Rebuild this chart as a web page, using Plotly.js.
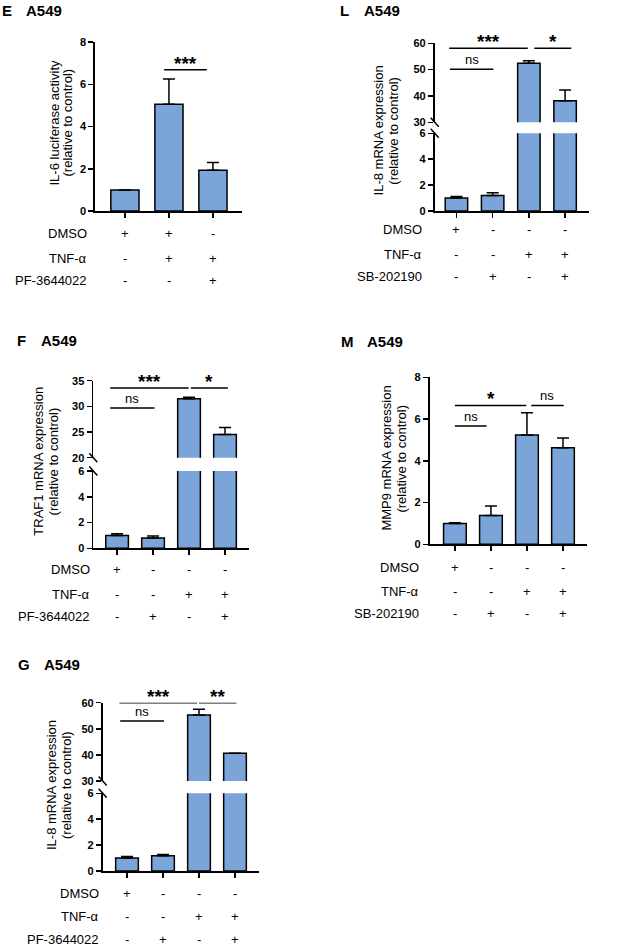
<!DOCTYPE html>
<html><head><meta charset="utf-8">
<script src="https://cdn.plot.ly/plotly-3.0.1.min.js"></script>
<style>html,body{margin:0;padding:0;background:#fff}</style>
</head><body>
<div id="chart" style="width:626px;height:950px"></div>
<script>
// ---------------- data ----------------
const eVals = [1.0, 5.05, 1.93];
const eErr  = [0, 1.2, 0.37];
const eDMSO = ['+', '+', '-'];
const eTNF  = ['-', '+', '+'];
const ePF   = ['-', '-', '+'];
const eSig  = [[0.89, 1.86, 6.69, '***']];

const lVals = [1.0, 1.2, 52.4, 38.2];
const lErr  = [0.12, 0.2, 1.0, 4.1];
const lDMSO = ['+', '-', '-', '-'];
const lTNF  = ['-', '-', '+', '+'];
const lSB   = ['-', '+', '-', '+'];
const lSig  = [[-0.2, 1.97, 58.1, '***'], [2.15, 3.17, 58.1, '*'], [-0.18, 1.02, 50.1, 'ns']];

const fVals = [1.0, 0.8, 31.5, 24.5];
const fErr  = [0.12, 0.15, 0.3, 1.4];
const fDMSO = ['+', '-', '-', '-'];
const fTNF  = ['-', '-', '+', '+'];
const fPF   = ['-', '+', '-', '+'];
const fSig  = [[-0.19, 1.99, 33.6, '***'], [2.05, 3.08, 33.6, '*'], [-0.19, 1.04, 29.7, 'ns']];

const mVals = [1.0, 1.38, 5.23, 4.63];
const mErr  = [0.03, 0.45, 1.07, 0.46];
const mDMSO = ['+', '-', '-', '-'];
const mTNF  = ['-', '-', '+', '+'];
const mSB   = ['-', '+', '-', '+'];
const mSig  = [[0.0, 1.98, 6.65, '*'], [2.12, 3.02, 6.65, 'ns'], [0.0, 0.88, 5.67, 'ns']];

const gVals = [1.0, 1.17, 55.3, 40.6];
const gErr  = [0.12, 0.1, 2.2, 0];
const gDMSO = ['+', '-', '-', '-'];
const gTNF  = ['-', '-', '+', '+'];
const gPF   = ['-', '+', '-', '+'];
const gSig  = [[-0.21, 1.95, 60, '***'], [2.0, 3.04, 60, '**'], [-0.19, 1.03, 53.0, 'ns']];

// ---------------- layout helpers ----------------
const W = 626, H = 950;
const FONT = 'Liberation Sans, Arial, sans-serif';
const px = v => v / W;
const py = v => 1 - v / H;
const key = id => id[0] + 'axis' + id.slice(1);
const BAR = '#7ba5d9';

const panels = [
  { vals: eVals, err: eErr, sig: eSig,
    rows: [['DMSO', eDMSO], ['TNF-α', eTNF], ['PF-3644022', ePF]],
    xa: 'x', yLow: 'y', yUp: null,
    xDom: [95, 242], xRange: [-0.68, 2.66], barW: 0.64,
    low: { dom: [42, 211], range: [0, 8], ticks: [0, 2, 4, 6, 8] },
    rowRight: 89, rowY: [233.5, 258.5, 280],
    title: ['IL-6 luciferase activity', '(relative to control)'], titleX: [54.5, 67.5], titleY: 123,
    letter: 'E', letterX: 0, nameX: 24, headY: 10 },
  { vals: lVals, err: lErr, sig: lSig,
    rows: [['DMSO', lDMSO], ['TNF-α', lTNF], ['SB-202190', lSB]],
    xa: 'x2', yLow: 'y2', yUp: 'y3',
    xDom: [434.7, 589], xRange: [-0.6, 3.66], barW: 0.62,
    low: { dom: [133.3, 211], range: [0, 6], ticks: [0, 2, 4, 6] },
    up: { dom: [43.3, 122.3], range: [30, 60], ticks: [30, 40, 50, 60] },
    rowRight: 424, rowY: [230, 254.3, 276.7],
    title: ['IL-8 mRNA expression', '(relative to control)'], titleX: [378.7, 394], titleY: 130.7,
    letter: 'L', letterX: 338, nameX: 362.3, headY: 10 },
  { vals: fVals, err: fErr, sig: fSig,
    rows: [['DMSO', fDMSO], ['TNF-α', fTNF], ['PF-3644022', fPF]],
    xa: 'x3', yLow: 'y4', yUp: 'y5',
    xDom: [93.3, 249.3], xRange: [-0.66, 3.675], barW: 0.63,
    low: { dom: [471, 548.3], range: [0, 6], ticks: [0, 2, 4, 6] },
    up: { dom: [380.7, 457.7], range: [20, 35], ticks: [20, 25, 30, 35] },
    rowRight: 91.7, rowY: [569.3, 594.3, 616],
    title: ['TRAF1 mRNA expression', '(relative to control)'], titleX: [39, 53.7], titleY: 461.7,
    letter: 'F', letterX: 15, nameX: 39.3, headY: 340 },
  { vals: mVals, err: mErr, sig: mSig,
    rows: [['DMSO', mDMSO], ['TNF-α', mTNF], ['SB-202190', mSB]],
    xa: 'x4', yLow: 'y6', yUp: null,
    xDom: [429.7, 587.3], xRange: [-0.7, 3.675], barW: 0.63,
    low: { dom: [377.3, 544.3], range: [0, 8], ticks: [0, 2, 4, 6, 8] },
    rowRight: 421.3, rowY: [567.3, 591.7, 613.3],
    title: ['MMP9 mRNA expression', '(relative to control)'], titleX: [386.3, 401.3], titleY: 458.3,
    letter: 'M', letterX: 339, nameX: 365.3, headY: 341 },
  { vals: gVals, err: gErr, sig: gSig,
    rows: [['DMSO', gDMSO], ['TNF-α', gTNF], ['PF-3644022', gPF]],
    xa: 'x5', yLow: 'y7', yUp: 'y8',
    xDom: [102.7, 259.3], xRange: [-0.675, 3.675], barW: 0.63,
    low: { dom: [793.3, 871], range: [0, 6], ticks: [0, 2, 4, 6] },
    up: { dom: [702.7, 781], range: [30, 60], ticks: [30, 40, 50, 60] },
    rowRight: 101, rowY: [893.3, 916.7, 939],
    title: ['IL-8 mRNA expression', '(relative to control)'], titleX: [51, 66], titleY: 785,
    letter: 'G', letterX: 16, nameX: 41.7, headY: 664.3 }
];

const traces = [];
const layout = {
  width: W, height: H, margin: { l: 0, r: 0, t: 0, b: 0 },
  paper_bgcolor: '#fff', plot_bgcolor: 'rgba(0,0,0,0)',
  showlegend: false, barmode: 'overlay',
  font: { family: FONT, color: '#000', size: 13 },
  annotations: [], shapes: []
};

function yAxis(seg, anchor) {
  return {
    domain: [py(seg.dom[1]), py(seg.dom[0])], range: seg.range, anchor: anchor,
    tickvals: seg.ticks, ticks: 'outside', ticklen: 5, tickwidth: 1.5, tickcolor: '#000',
    showline: true, linecolor: '#000', linewidth: 1.8, showgrid: false, zeroline: false,
    tickfont: { family: FONT, size: 11, weight: 'bold', color: '#000' }, fixedrange: true
  };
}

panels.forEach(p => {
  const idx = p.vals.map((_, i) => i);
  const zeros = p.vals.map(() => 0);
  layout[key(p.xa)] = {
    domain: [px(p.xDom[0]), px(p.xDom[1])], range: p.xRange, anchor: p.yLow,
    tickvals: idx, showticklabels: false, ticks: 'outside', ticklen: 5, tickwidth: 1.5, tickcolor: '#000',
    showline: true, linecolor: '#000', linewidth: 1.8, showgrid: false, zeroline: false, fixedrange: true
  };
  layout[key(p.yLow)] = yAxis(p.low, p.xa);
  if (p.yUp) layout[key(p.yUp)] = yAxis(p.up, p.xa);

  const segs = p.yUp ? [p.yLow, p.yUp] : [p.yLow];
  segs.forEach(ya => {
    traces.push({
      type: 'bar', x: idx, y: p.vals, width: p.barW, xaxis: p.xa, yaxis: ya,
      marker: { color: BAR, line: { color: '#000', width: 1.5 } },
      error_y: { type: 'data', symmetric: false, array: p.err, arrayminus: zeros,
                 color: '#000', thickness: 1.5, width: 6 },
      hoverinfo: 'skip'
    });
  });

  const sigAxis = p.yUp || p.yLow;
  p.sig.forEach(s => {
    traces.push({
      type: 'scatter', mode: 'lines', x: [s[0], s[1]], y: [s[2], s[2]],
      xaxis: p.xa, yaxis: sigAxis, cliponaxis: false,
      line: { color: '#000', width: 1.5 }, hoverinfo: 'skip'
    });
    const isNs = s[3] === 'ns';
    layout.annotations.push({
      x: (s[0] + s[1]) / 2, y: s[2], xref: p.xa, yref: sigAxis,
      text: s[3], showarrow: false, xanchor: 'center', yanchor: 'bottom',
      yshift: isNs ? 0 : -6,
      font: { family: FONT, size: isNs ? 13 : 19, weight: isNs ? 'normal' : 'bold', color: '#000' }
    });
  });

  // row labels and +/- signs
  p.rows.forEach((r, ri) => {
    layout.annotations.push({
      xref: 'paper', yref: 'paper', x: px(p.rowRight), y: py(p.rowY[ri]),
      xanchor: 'right', yanchor: 'middle', text: r[0], showarrow: false,
      font: { family: FONT, size: 13, color: '#000' }
    });
    r[1].forEach((sgn, i) => {
      layout.annotations.push({
        xref: p.xa, yref: 'paper', x: i, y: py(p.rowY[ri]),
        xanchor: 'center', yanchor: 'middle', text: sgn, showarrow: false,
        font: { family: FONT, size: 13, color: '#000' }
      });
    });
  });

  // y-axis title (two lines)
  p.title.forEach((t, ti) => {
    layout.annotations.push({
      xref: 'paper', yref: 'paper', x: px(p.titleX[ti]), y: py(p.titleY),
      xanchor: 'center', yanchor: 'middle', textangle: -90, text: t, showarrow: false,
      font: { family: FONT, size: 13, color: '#000' }
    });
  });

  // panel heading
  layout.annotations.push({
    xref: 'paper', yref: 'paper', x: px(p.letterX), y: py(p.headY), xanchor: 'left', yanchor: 'middle',
    text: p.letter, showarrow: false, font: { family: FONT, size: 15, weight: 'bold', color: '#000' }
  });
  layout.annotations.push({
    xref: 'paper', yref: 'paper', x: px(p.nameX), y: py(p.headY), xanchor: 'left', yanchor: 'middle',
    text: 'A549', showarrow: false, font: { family: FONT, size: 15, weight: 'bold', color: '#000' }
  });

  // axis break marks
  if (p.yUp) {
    const ax = p.xDom[0];
    [p.up.dom[1], p.low.dom[0]].forEach(yb => {
      layout.shapes.push({
        type: 'line', xref: 'paper', yref: 'paper',
        x0: px(ax - 4), y0: py(yb - 4.5), x1: px(ax + 4), y1: py(yb + 4.5),
        line: { color: '#000', width: 1.5 }
      });
    });
  }
});

Plotly.newPlot('chart', traces, layout, { staticPlot: true, displayModeBar: false });
</script>
</body></html>
